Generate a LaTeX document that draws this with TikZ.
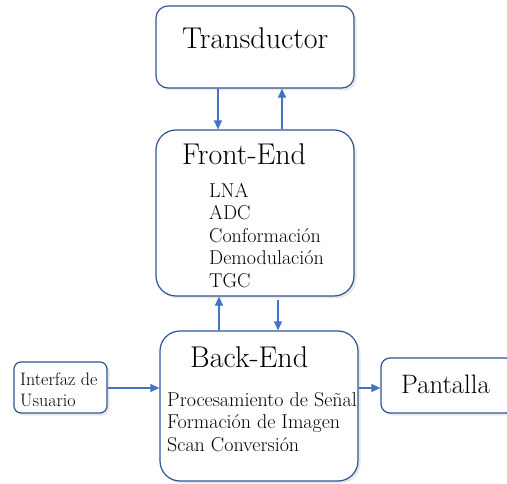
\documentclass[tikz,border=0pt]{standalone}
\usetikzlibrary{arrows.meta,shadows}
\definecolor{boxblue}{RGB}{47,85,151}
\definecolor{arrblue}{RGB}{68,114,196}
\begin{document}
\begin{tikzpicture}[x=1pt,y=1pt,
  box/.style={draw=boxblue,line width=1.2pt,fill=white,inner sep=0pt,
    drop shadow={opacity=0.18,shadow xshift=2.5pt,shadow yshift=-2.5pt}},
  arr/.style={draw=arrblue,line width=1.3pt,-{Triangle[length=9pt,width=8pt]}},
  big/.style={font=\fontsize{30}{34}\selectfont,inner sep=0pt,anchor=base west},
  mid/.style={font=\fontsize{26.7}{30}\selectfont,inner sep=0pt,anchor=base west},
  lst/.style={font=\fontsize{20}{22.5}\selectfont,inner sep=0pt,anchor=north west,align=left},
  sml/.style={font=\fontsize{18}{20.3}\selectfont,inner sep=0pt,anchor=north west,align=left}]
\useasboundingbox (0,0) rectangle (507,483);
% boxes
\node[box,rounded corners=12pt,minimum width=198pt,minimum height=82pt] (trans) at (255,436) {};
\node[box,rounded corners=20pt,minimum width=198pt,minimum height=166pt] (fe) at (255,270) {};
\node[box,rounded corners=20pt,minimum width=198pt,minimum height=150pt] (be) at (259,77) {};
\node[box,rounded corners=7pt,minimum width=93pt,minimum height=51pt] (ui) at (60.5,95.5) {};
\node[box,rounded corners=9pt,minimum width=134pt,minimum height=55pt] (pant) at (448,97.5) {};
% texts
\node[big] (tt) at (182,434) {Transductor};
\node[big] (ft) at (182,318) {Front-End};
\node[lst] (fl) at (209,300) {LNA\\ADC\\Conformación\\Demodulación\\TGC};
\node[big] (bt) at (190,116) {Back-End};
\node[lst] (bl) at (167,91) {Procesamiento de Señal\\Formación de Imagen\\Scan Conversión};
\node[mid] (pt) at (401,90) {Pantalla};
\node[sml] (ut) at (20,110) {Interfaz de\\Usuario};
% connectors
\draw[arr] (trans.south -| 218,0) -- (fe.north -| 218,0);
\draw[arr] (fe.north -| 282,0) -- (trans.south -| 282,0);
\draw[arr] (be.north -| 219,0) -- (fe.south -| 219,0);
\draw[arr] ([yshift=-3pt]fe.south -| 278,0) -- (be.north -| 278,0);
\draw[arr] (ui.east |- 0,95) -- (be.west |- 0,95);
\draw[arr] (be.east |- 0,95) -- (pant.west |- 0,95);
\end{tikzpicture}
\end{document}
